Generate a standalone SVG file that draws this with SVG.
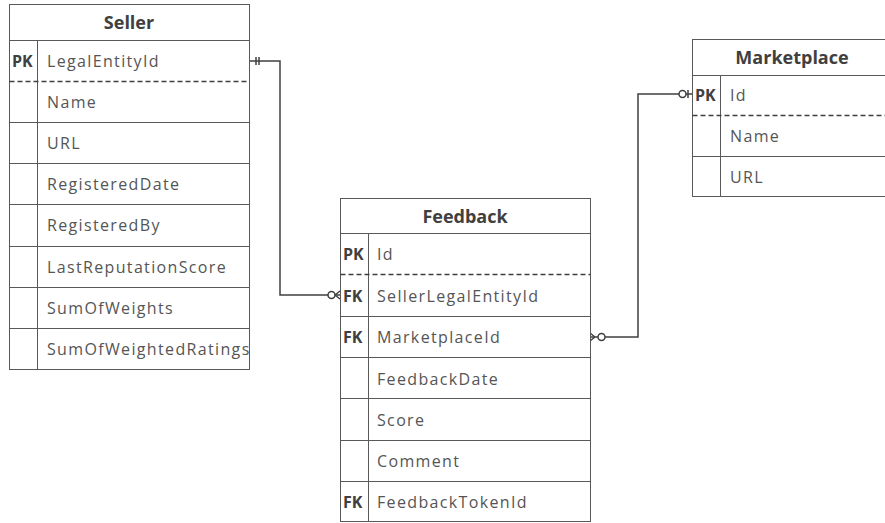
<svg xmlns="http://www.w3.org/2000/svg" width="885" height="523" viewBox="0 0 885 523">
<style>
.box{fill:#fff;stroke:#595959;stroke-width:1}
.ln{stroke:#595959;stroke-width:1;fill:none}
.dash{stroke:#404040;stroke-width:1.5;stroke-dasharray:5 3;fill:none}
.h{font-family:"Open Sans","Liberation Sans",sans-serif;font-weight:bold;font-size:18px;fill:#404040;text-anchor:middle}
.t{font-family:"Open Sans","Liberation Sans",sans-serif;font-size:16px;letter-spacing:1.35px;fill:#555}
.k{font-family:"Open Sans","Liberation Sans",sans-serif;font-weight:bold;font-size:16px;fill:#404040}
.c{stroke:#404040;stroke-width:1.5;fill:none}
.o{stroke:#404040;stroke-width:1.5;fill:#fff}
</style>
<rect width="885" height="523" fill="#fff"/>
<g id="connectors">
<path class="c" d="M249,61 H280 V295 H340"/>
<path class="c" d="M256,57 V65 M259,57 V65"/>
<circle class="o" cx="331.5" cy="295" r="3.5"/>
<path class="c" d="M335,295 L340,291 M335,295 L340,299"/>
<path class="c" d="M692,94 H638 V337 H590"/>
<path class="c" d="M688,90 V98"/>
<circle class="o" cx="682.5" cy="94" r="3.5"/>
<circle class="o" cx="601.5" cy="337" r="3.5"/>
<path class="c" d="M595,337 L590,333 M595,337 L590,341"/>
</g>
<g id="seller">
<rect class="box" x="9.5" y="4.5" width="240" height="365"/>
<line class="ln" x1="9.5" y1="40.5" x2="249.5" y2="40.5"/>
<line class="ln" x1="37.5" y1="40.5" x2="37.5" y2="369.5"/>
<line class="dash" x1="9.5" y1="81.5" x2="249.5" y2="81.5"/>
<line class="ln" x1="9.5" y1="122.5" x2="249.5" y2="122.5"/>
<line class="ln" x1="9.5" y1="163.5" x2="249.5" y2="163.5"/>
<line class="ln" x1="9.5" y1="204.5" x2="249.5" y2="204.5"/>
<line class="ln" x1="9.5" y1="246.5" x2="249.5" y2="246.5"/>
<line class="ln" x1="9.5" y1="287.5" x2="249.5" y2="287.5"/>
<line class="ln" x1="9.5" y1="328.5" x2="249.5" y2="328.5"/>
<text class="h" x="129" y="29">Seller</text>
<text class="k" x="12" y="67">PK</text>
<text class="t" x="47" y="67">LegalEntityId</text>
<text class="t" x="47" y="108">Name</text>
<text class="t" x="47" y="149">URL</text>
<text class="t" x="47" y="190">RegisteredDate</text>
<text class="t" x="47" y="231">RegisteredBy</text>
<text class="t" x="47" y="273">LastReputationScore</text>
<text class="t" x="47" y="314">SumOfWeights</text>
<text class="t" x="47" y="355">SumOfWeightedRatings</text>
</g>
<g id="feedback">
<rect class="box" x="340.5" y="198.5" width="250" height="323"/>
<line class="ln" x1="340.5" y1="233.5" x2="590.5" y2="233.5"/>
<line class="ln" x1="368.5" y1="233.5" x2="368.5" y2="521.5"/>
<line class="dash" x1="340.5" y1="274.5" x2="590.5" y2="274.5"/>
<line class="ln" x1="340.5" y1="316.5" x2="590.5" y2="316.5"/>
<line class="ln" x1="340.5" y1="357.5" x2="590.5" y2="357.5"/>
<line class="ln" x1="340.5" y1="398.5" x2="590.5" y2="398.5"/>
<line class="ln" x1="340.5" y1="440.5" x2="590.5" y2="440.5"/>
<line class="ln" x1="340.5" y1="481.5" x2="590.5" y2="481.5"/>
<text class="h" x="465" y="223">Feedback</text>
<text class="k" x="343" y="260">PK</text>
<text class="t" x="377" y="260">Id</text>
<text class="k" x="343" y="302">FK</text>
<text class="t" x="377" y="302">SellerLegalEntityId</text>
<text class="k" x="343" y="343">FK</text>
<text class="t" x="377" y="343">MarketplaceId</text>
<text class="t" x="377" y="385">FeedbackDate</text>
<text class="t" x="377" y="426">Score</text>
<text class="t" x="377" y="467">Comment</text>
<text class="k" x="343" y="508">FK</text>
<text class="t" x="377" y="508">FeedbackTokenId</text>
</g>
<g id="marketplace">
<rect class="box" x="692.5" y="39.5" width="200" height="157"/>
<line class="ln" x1="692.5" y1="75.5" x2="885" y2="75.5"/>
<line class="ln" x1="720.5" y1="75.5" x2="720.5" y2="196.5"/>
<line class="dash" x1="692.5" y1="115.5" x2="885" y2="115.5"/>
<line class="ln" x1="692.5" y1="156.5" x2="885" y2="156.5"/>
<text class="h" x="792" y="64">Marketplace</text>
<text class="k" x="695" y="101">PK</text>
<text class="t" x="730" y="101">Id</text>
<text class="t" x="730" y="142">Name</text>
<text class="t" x="730" y="183">URL</text>
</g>
</svg>
